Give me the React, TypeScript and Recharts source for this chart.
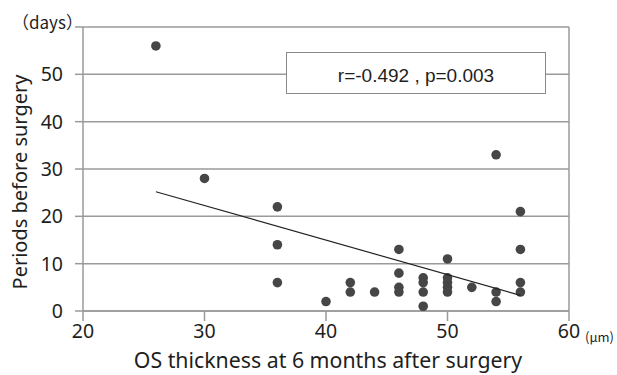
import React from 'react';
import {
  ScatterChart,
  Scatter,
  XAxis,
  YAxis,
  CartesianGrid,
  ReferenceLine,
} from 'recharts';

// OS thickness (µm) and days before surgery
const thickness = [26, 30, 36, 36, 36, 40, 42, 42, 44, 46, 46, 46, 46, 48, 48, 48, 48, 50, 50, 50, 50, 50, 52, 54, 54, 54, 56, 56, 56, 56];
const days = [56, 28, 22, 14, 6, 2, 6, 4, 4, 13, 8, 5, 4, 7, 6, 4, 1, 11, 7, 6, 5, 4, 5, 33, 4, 2, 21, 13, 6, 4];

// regression line end points
const fitX = [26, 56];
const fitY = [25.2, 3.3];

const xTicks = [20, 30, 40, 50, 60];
const yTicks = [0, 10, 20, 30, 40, 50, 60];

const statText = 'r=-0.492 , p=0.003';

const gridColor = '#9a9a9a';
const dotColor = '#464646';
const textColor = '#1e1e1e';
const font = '"Noto Sans", sans-serif';
const cjkFont = '"Noto Sans CJK JP", "Noto Sans", sans-serif';

const points = thickness.map((x, i) => ({ x, y: days[i] }));
const fitLine = fitX.map((x, i) => ({ x, y: fitY[i] }));

export default function App() {
  return (
    <div style={{ position: 'absolute', left: 0, top: 0, width: 617, height: 375, background: '#fff', fontFamily: font, color: textColor }}>
      <ScatterChart width={617} height={375} margin={{ top: 27, right: 48, bottom: 34, left: 0 }}>
        <CartesianGrid vertical={false} stroke={gridColor} strokeWidth={1.5} />
        <XAxis
          type="number"
          dataKey="x"
          domain={[20, 60]}
          ticks={xTicks}
          height={30}
          tickSize={10}
          tickMargin={3}
          axisLine={{ stroke: gridColor, strokeWidth: 1.5 }}
          tickLine={{ stroke: gridColor, strokeWidth: 1.5 }}
          tick={{ fontSize: 19.5, fill: textColor, fontFamily: font }}
        />
        <YAxis
          type="number"
          dataKey="y"
          domain={[0, 60]}
          ticks={yTicks}
          width={83}
          tickSize={8}
          tickMargin={12}
          tickFormatter={(v: number) => (v === 60 ? '' : String(v))}
          axisLine={{ stroke: gridColor, strokeWidth: 1.5 }}
          tickLine={{ stroke: gridColor, strokeWidth: 1.5 }}
          tick={{ fontSize: 19.5, fill: textColor, fontFamily: font }}
        />
        <ReferenceLine x={60} stroke={gridColor} strokeWidth={1.5} />
        <Scatter data={points} fill={dotColor} isAnimationActive={false} shape={(p: any) => <circle cx={p.cx} cy={p.cy} r={4.8} fill={dotColor} />} />
        <Scatter
          data={fitLine}
          isAnimationActive={false}
          line={{ stroke: '#222', strokeWidth: 1.2 }}
          shape={() => <g />}
        />
      </ScatterChart>

      {/* stats box */}
      <div
        style={{
          position: 'absolute',
          left: 286,
          top: 52,
          width: 258,
          height: 40,
          border: '1px solid #8a8a8a',
          background: '#fff',
          fontFamily: '"Liberation Sans", Arial, sans-serif',
          fontSize: 19,
          lineHeight: '46px',
          textAlign: 'center',
        }}
      >
        {statText}
      </div>

      <div style={{ position: 'absolute', left: 12, top: 12, fontSize: 17, lineHeight: '20px', fontFamily: cjkFont }}>（days）</div>
      <div style={{ position: 'absolute', left: 585, top: 329, fontSize: 13, lineHeight: '16px', fontFamily: cjkFont }}>(μm)</div>

      <div
        style={{
          position: 'absolute',
          left: -130,
          top: 169,
          width: 300,
          height: 26,
          lineHeight: '26px',
          fontSize: 20,
          textAlign: 'center',
          transform: 'rotate(-90deg)',
        }}
      >
        Periods before surgery
      </div>
      <div
        style={{
          position: 'absolute',
          left: 28,
          top: 347,
          width: 600,
          height: 26,
          lineHeight: '26px',
          fontSize: 21.3,
          textAlign: 'center',
        }}
      >
        OS thickness at 6 months after surgery
      </div>
    </div>
  );
}
